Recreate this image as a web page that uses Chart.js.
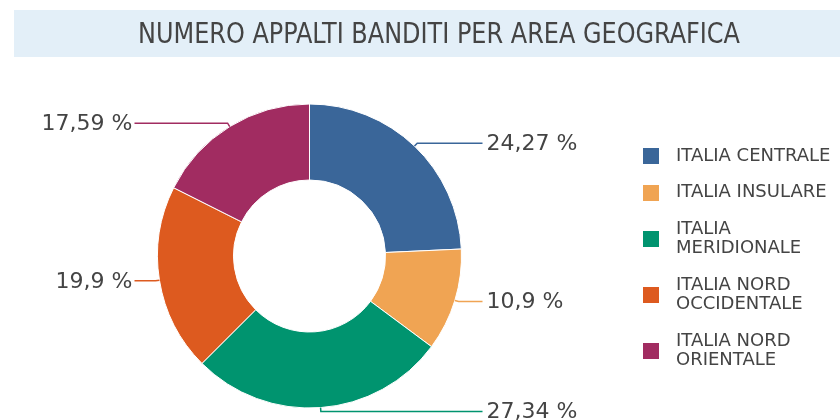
<!DOCTYPE html>
<html>
<head>
<meta charset="utf-8">
<script src="https://cdn.jsdelivr.net/npm/chart.js@4.4.0/dist/chart.umd.min.js"></script>
<style>
html,body{margin:0;padding:0;background:#fff;}
#wrap{position:relative;width:840px;height:420px;}
</style>
</head>
<body>
<div id="wrap"><canvas id="c"></canvas></div>
<script>
const titleText = 'NUMERO APPALTI BANDITI PER AREA GEOGRAFICA';
const categories = ['ITALIA CENTRALE', 'ITALIA INSULARE', 'ITALIA MERIDIONALE', 'ITALIA NORD OCCIDENTALE', 'ITALIA NORD ORIENTALE'];
const values = [24.27, 10.9, 27.34, 19.9, 17.59];
const colors = ['#3a6699', '#f0a453', '#00946f', '#dd5a1f', '#a12c61'];

const TEXT = '#444444';

function fmt(v){ return String(v).replace('.', ',') + ' %'; }

function wrapWords(ctx, text, maxW){
  const words = text.split(' ');
  const lines = [];
  let cur = '';
  for (const w of words){
    const t = cur ? cur + ' ' + w : w;
    if (ctx.measureText(t).width > maxW && cur){ lines.push(cur); cur = w; }
    else cur = t;
  }
  if (cur) lines.push(cur);
  return lines;
}

const decor = {
  id: 'decor',
  beforeDraw(chart){
    const ctx = chart.ctx;
    ctx.save();
    ctx.fillStyle = '#e3eff8';
    ctx.fillRect(14, 10, 826, 47);
    ctx.fillStyle = TEXT;
    ctx.font = '28px "DejaVu Sans Condensed", "Liberation Sans Narrow", "DejaVu Sans", sans-serif';
    ctx.textAlign = 'center';
    ctx.textBaseline = 'middle';
    ctx.fillText(titleText, 439, 36, 602);
    ctx.restore();
  },
  afterDraw(chart){
    const ctx = chart.ctx;
    const meta = chart.getDatasetMeta(0);
    ctx.save();
    ctx.font = '22px "DejaVu Sans", sans-serif';
    ctx.textBaseline = 'middle';
    meta.data.forEach((arc, i) => {
      const p = arc.getProps(['x','y','startAngle','endAngle','outerRadius'], true);
      const mid = (p.startAngle + p.endAngle) / 2;
      const r0 = p.outerRadius;
      const r1 = p.outerRadius + 4;
      const x0 = p.x + Math.cos(mid) * r0, y0 = p.y + Math.sin(mid) * r0;
      const x1 = p.x + Math.cos(mid) * r1, y1 = p.y + Math.sin(mid) * r1;
      const right = Math.cos(mid) >= 0;
      const xe = right ? p.x + 173 : p.x - 175;
      ctx.strokeStyle = colors[i];
      ctx.lineWidth = 1.5;
      ctx.beginPath();
      ctx.moveTo(x0, y0);
      ctx.lineTo(x1, y1);
      ctx.lineTo(xe, y1);
      ctx.stroke();
      ctx.fillStyle = TEXT;
      ctx.textAlign = right ? 'left' : 'right';
      ctx.fillText(fmt(values[i]), right ? p.x + 177 : p.x - 177, y1 + 1);
    });
    ctx.font = '18px "DejaVu Sans", sans-serif';
    ctx.textAlign = 'left';
    ctx.textBaseline = 'middle';
    const lh = 19.5, gap = 17;
    let top = 156 - lh / 2;
    categories.forEach((c, i) => {
      const lines = wrapWords(ctx, c, 162);
      const h = lines.length * lh;
      const cy = top + h / 2;
      ctx.fillStyle = colors[i];
      ctx.fillRect(643, Math.round(cy - 8), 16, 16);
      ctx.fillStyle = TEXT;
      lines.forEach((l, k) => ctx.fillText(l, 676, top + lh / 2 + k * lh));
      top += h + gap;
    });
    ctx.restore();
  }
};

new Chart(document.getElementById('c'), {
  type: 'doughnut',
  data: {
    labels: categories,
    datasets: [{
      data: values,
      backgroundColor: colors,
      borderColor: '#ffffff',
      borderWidth: 1,
      hoverOffset: 0
    }]
  },
  options: {
    responsive: true,
    maintainAspectRatio: false,
    animation: false,
    cutout: '50%',
    layout: { padding: { left: 157, right: 378, top: 103, bottom: 11 } },
    plugins: {
      legend: { display: false },
      title: { display: false },
      tooltip: { enabled: false }
    }
  },
  plugins: [decor]
});
</script>
</body>
</html>
